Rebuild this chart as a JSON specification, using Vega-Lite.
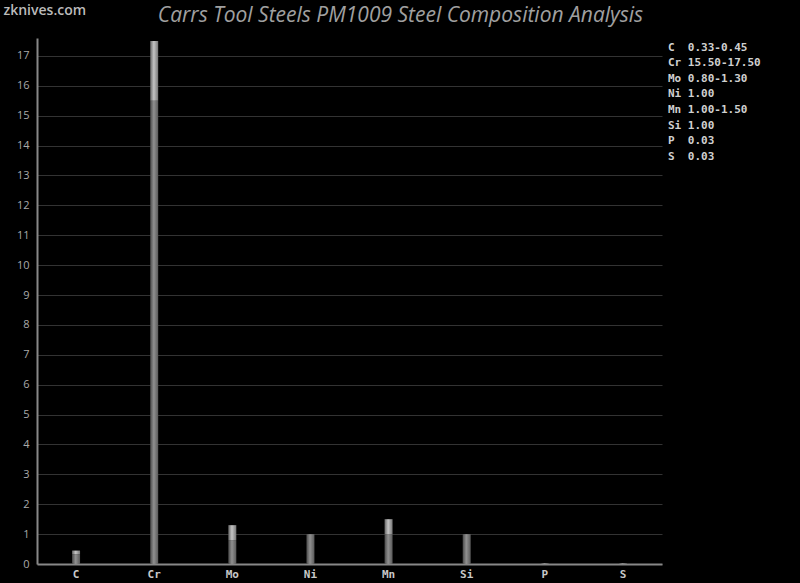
{
  "$schema": "https://vega.github.io/schema/vega-lite/v6.json",
  "autosize": "none",
  "width": 625,
  "height": 526,
  "padding": {"left": 37, "top": 38, "right": 138, "bottom": 19},
  "background": "black",
  "title": {
    "text": "Carrs Tool Steels PM1009 Steel Composition Analysis",
    "font": "Open Sans",
    "fontStyle": "italic",
    "fontWeight": "normal",
    "fontSize": 21,
    "color": "#a0a0a0",
    "anchor": "middle",
    "dx": 51,
    "offset": -23
  },
  "config": {
    "view": {"stroke": null},
    "axis": {"gridColor": "#333333", "domainColor": "#888888", "domainWidth": 2, "ticks": false}
  },
  "datasets": {
    "comp": [
      {"el": "C", "min": 0.33, "max": 0.45},
      {"el": "Cr", "min": 15.5, "max": 17.5},
      {"el": "Mo", "min": 0.8, "max": 1.3},
      {"el": "Ni", "min": 1.0, "max": 1.0},
      {"el": "Mn", "min": 1.0, "max": 1.5},
      {"el": "Si", "min": 1.0, "max": 1.0},
      {"el": "P", "min": 0.03, "max": 0.03},
      {"el": "S", "min": 0.03, "max": 0.03}
    ],
    "legendRows": [
      {"k": 1, "txt": "C\u00a0\u00a00.33-0.45"},
      {"k": 2, "txt": "Cr\u00a015.50-17.50"},
      {"k": 3, "txt": "Mo\u00a00.80-1.30"},
      {"k": 4, "txt": "Ni\u00a01.00"},
      {"k": 5, "txt": "Mn\u00a01.00-1.50"},
      {"k": 6, "txt": "Si\u00a01.00"},
      {"k": 7, "txt": "P\u00a0\u00a00.03"},
      {"k": 8, "txt": "S\u00a0\u00a00.03"}
    ]
  },
  "layer": [
    {
      "data": {"name": "comp"},
      "mark": {
        "type": "bar",
        "width": 8,
        "color": {"gradient": "linear", "x1": 0, "x2": 1, "y1": 0, "y2": 0,
          "stops": [{"offset": 0, "color": "#4a4a4a"}, {"offset": 0.45, "color": "#909090"}, {"offset": 1, "color": "#5a5a5a"}]}
      },
      "encoding": {
        "x": {"field": "el", "type": "nominal", "sort": null,
          "scale": {"paddingInner": 0, "paddingOuter": 0},
          "axis": {"title": null, "labelAngle": 0, "labelFont": "DejaVu Sans Mono", "labelFontSize": 11, "labelFontWeight": "bold", "labelColor": "#c8c8c8", "labelPadding": 4, "grid": false}},
        "y": {"field": "min", "type": "quantitative",
          "scale": {"domain": [0, 17.6], "nice": false},
          "axis": {"values": [0,1,2,3,4,5,6,7,8,9,10,11,12,13,14,15,16,17], "grid": true, "labelOverlap": false,
            "labelFont": "Open Sans", "labelFontSize": 11, "labelColor": "#aaaaaa", "labelPadding": 8,
            "title": "zknives.com", "titleAngle": 0, "titleX": -34, "titleY": -28, "titleAlign": "left", "titleBaseline": "middle",
            "titleFont": "Open Sans", "titleFontSize": 14, "titleFontWeight": 600, "titleColor": "#bbbbbb"}}
      }
    },
    {
      "data": {"name": "comp"},
      "mark": {
        "type": "bar",
        "width": 8,
        "color": {"gradient": "linear", "x1": 0, "x2": 1, "y1": 0, "y2": 0,
          "stops": [{"offset": 0, "color": "#666666"}, {"offset": 0.45, "color": "#c4c4c4"}, {"offset": 1, "color": "#777777"}]}
      },
      "encoding": {
        "x": {"field": "el", "type": "nominal", "sort": null,
          "axis": {"title": null, "labelAngle": 0, "labelFont": "DejaVu Sans Mono", "labelFontSize": 11, "labelFontWeight": "bold", "labelColor": "#c8c8c8", "labelPadding": 4, "grid": false}},
        "y": {"field": "min", "type": "quantitative",
          "axis": {"values": [0,1,2,3,4,5,6,7,8,9,10,11,12,13,14,15,16,17], "grid": true, "labelOverlap": false,
            "labelFont": "Open Sans", "labelFontSize": 11, "labelColor": "#aaaaaa", "labelPadding": 8,
            "title": "zknives.com", "titleAngle": 0, "titleX": -34, "titleY": -28, "titleAlign": "left", "titleBaseline": "middle",
            "titleFont": "Open Sans", "titleFontSize": 14, "titleFontWeight": 600, "titleColor": "#bbbbbb"}},
        "y2": {"field": "max"}
      }
    },
    {
      "data": {"name": "legendRows"},
      "mark": {"type": "point", "opacity": 0},
      "encoding": {
        "shape": {"field": "txt", "type": "nominal", "sort": {"field": "k"},
          "legend": {"title": null, "orient": "none", "legendX": 620, "legendY": 4,
            "symbolOpacity": 0, "symbolSize": 1, "symbolStrokeWidth": 0, "labelOffset": 0,
            "labelFont": "DejaVu Sans Mono", "labelFontSize": 11, "labelFontWeight": "bold", "labelColor": "#d0d0d0", "labelLimit": 200, "rowPadding": 3.6, "padding": 0}}
      }
    }
  ]
}
